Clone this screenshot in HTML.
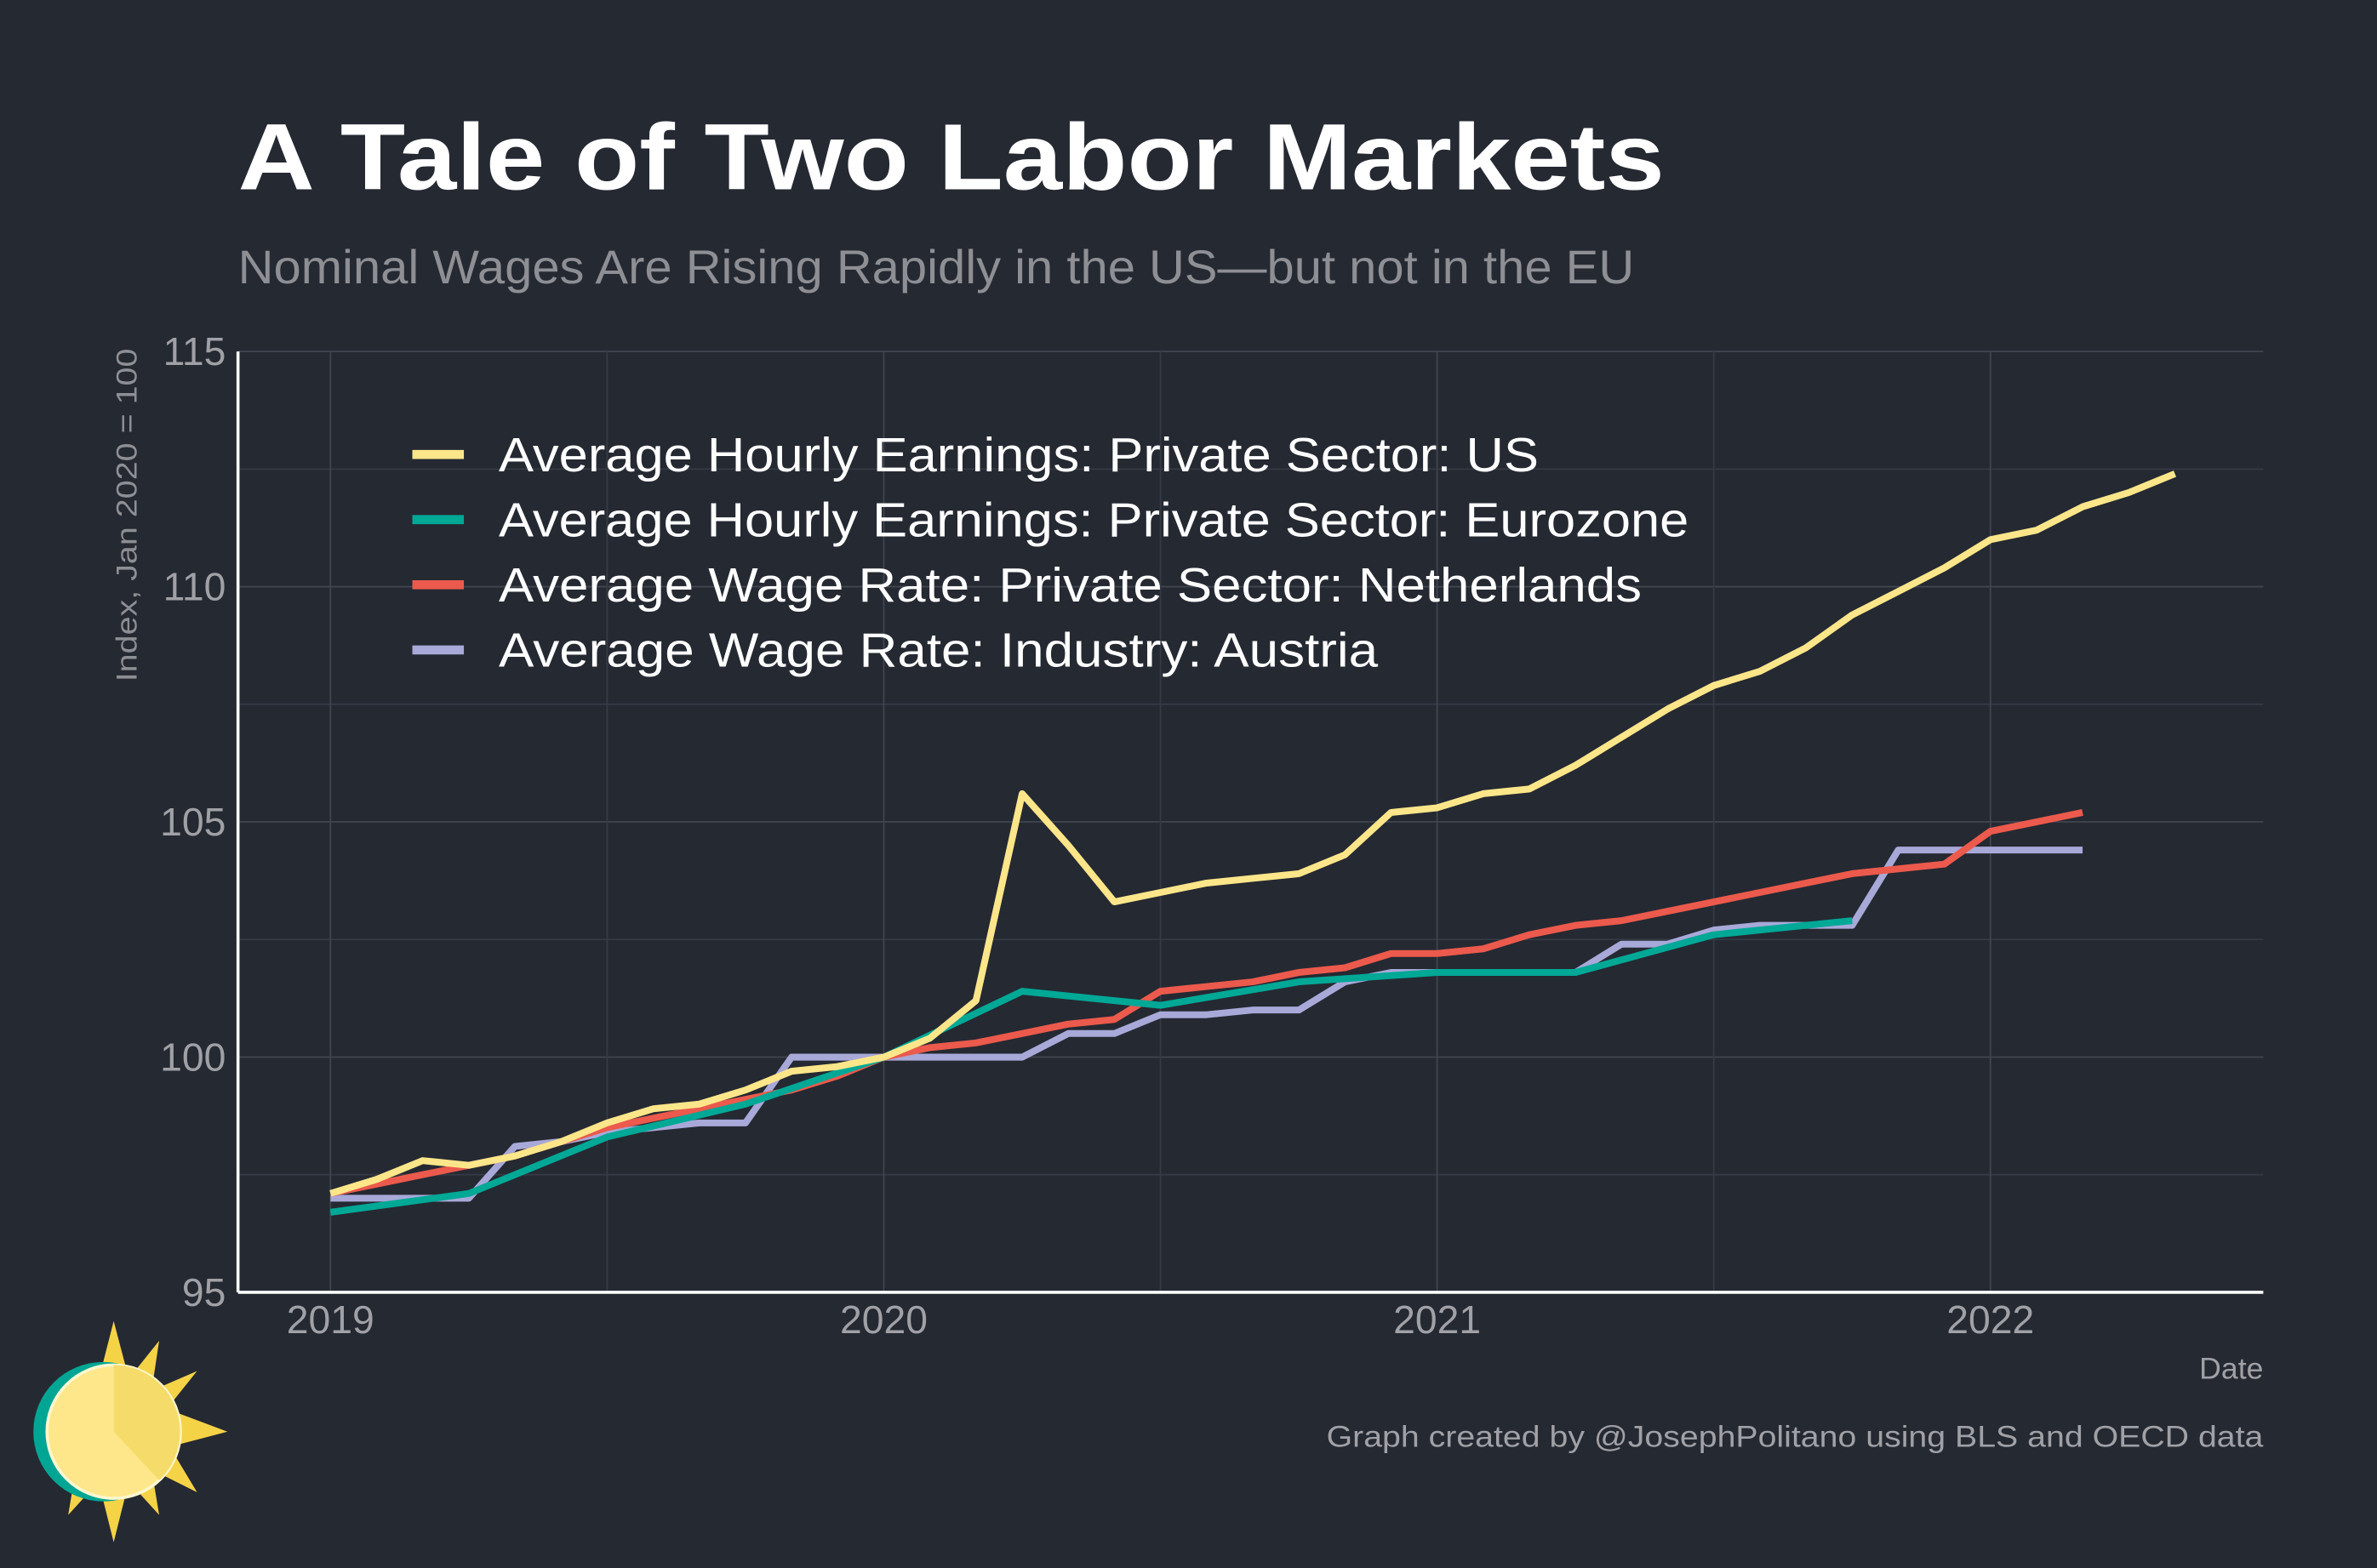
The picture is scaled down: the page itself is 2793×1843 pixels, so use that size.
<!DOCTYPE html>
<html><head><meta charset="utf-8"><style>
html,body{margin:0;padding:0;background:#252932;}
svg{display:block;}
text{font-family:"Liberation Sans",Arial,sans-serif;}
</style></head><body>
<svg id="chart" width="2793" height="1843" viewBox="0 0 1568 1035" preserveAspectRatio="none" xmlns="http://www.w3.org/2000/svg">
<rect width="1568" height="1035" fill="#252932"/>
<text x="157" y="125" font-size="62" font-weight="bold" fill="#ffffff" textLength="941" lengthAdjust="spacingAndGlyphs">A Tale of Two Labor Markets</text>
<text x="157" y="187" font-size="31" fill="#8e8f94" textLength="921" lengthAdjust="spacingAndGlyphs">Nominal Wages Are Rising Rapidly in the US—but not in the EU</text>
<g id="grid"></g>
<g id="axes"></g>
<g id="series"></g>
<g id="legend"></g>
<text x="90" y="340" font-size="19" fill="#8e8f94" text-anchor="middle" textLength="220" lengthAdjust="spacingAndGlyphs" transform="rotate(-90 90 340)">Index, Jan 2020 = 100</text>
<text x="1493" y="910" font-size="20" fill="#a0a1a6" text-anchor="end">Date</text>
<text x="875" y="955" font-size="20" fill="#a0a1a6" textLength="618" lengthAdjust="spacingAndGlyphs">Graph created by @JosephPolitano using BLS and OECD data</text>
<g>
<polygon points="75,872 85,910 105,885 100,918 130,905 110,930 150,945 112,955 130,985 100,970 105,1000 85,978 75,1018 65,978 45,1000 50,970" fill="#f5d347"/>
<circle cx="68" cy="945" r="46" fill="#00a693"/>
<circle cx="75" cy="945" r="44" fill="#fee68a" stroke="#fff7d0" stroke-width="2"/>
<path d="M75,945 L75,901 A44,44 0 0,1 105,977 Z" fill="#f5dc6a"/>
</g>
</svg>
<script>
const yTicks = [95, 100, 105, 110, 115];
const xTickYears = [2019, 2020, 2021, 2022];
const usValues = [97.1,97.4,97.8,97.7,97.9,98.2,98.6,98.9,99.0,99.3,99.7,99.8,100.0,100.4,101.2,105.6,104.5,103.3,103.5,103.7,103.8,103.9,104.3,105.2,105.3,105.6,105.7,106.2,106.8,107.4,107.9,108.2,108.7,109.4,109.9,110.4,111.0,111.2,111.7,112.0,112.4];
const euMonths = [0,3,6,9,12,15,18,21,24,27,30,33];
const euValues = [96.7,97.1,98.3,99.0,100.0,101.4,101.1,101.6,101.8,101.8,102.6,102.9];
const nlValues = [97.1,97.3,97.5,97.7,97.9,98.2,98.5,98.7,98.9,99.1,99.3,99.6,100.0,100.2,100.3,100.5,100.7,100.8,101.4,101.5,101.6,101.8,101.9,102.2,102.2,102.3,102.6,102.8,102.9,103.1,103.3,103.5,103.7,103.9,104.0,104.1,104.8,105.0,105.2];
const atValues = [97,97,97,97,98.1,98.2,98.4,98.5,98.6,98.6,100,100,100,100,100,100,100.5,100.5,100.9,100.9,101,101,101.6,101.8,101.8,101.8,101.8,101.8,102.4,102.4,102.7,102.8,102.8,102.8,104.4,104.4,104.4,104.4,104.4];
const seriesNames = ["Average Hourly Earnings: Private Sector: US","Average Hourly Earnings: Private Sector: Eurozone","Average Wage Rate: Private Sector: Netherlands","Average Wage Rate: Industry: Austria"];
const legendWidths = [686,785,754,580];
const seriesColors = ["#fde68a","#00a896","#eb5a4c","#a8a9d8"];

const NS="http://www.w3.org/2000/svg";
const X0=157,X1=1493,Y0=853,Y1=232;
function y(v){return Y0-(v-95)*(Y0-Y1)/20;}
function x(m){return 218+m*365/12;}
function mk(tag,attrs,parent){const e=document.createElementNS(NS,tag);for(const k in attrs)e.setAttribute(k,attrs[k]);parent.appendChild(e);return e;}
const grid=document.getElementById('grid'),axes=document.getElementById('axes'),ser=document.getElementById('series'),leg=document.getElementById('legend');
for(let v=95;v<=115;v+=2.5){const l=mk('line',{x1:X0,x2:X1,y1:y(v),y2:y(v),stroke:v%5===0?'#40454f':'#363a44','stroke-width':1},grid);

}
for(let m=-6;m<=42;m+=6){const xx=x(m);if(xx<X0||xx>X1)continue;const l=mk('line',{x1:xx,x2:xx,y1:Y1,y2:Y0,stroke:m%12===0?'#40454f':'#363a44','stroke-width':1},grid);

}
yTicks.forEach(v=>{const t=mk('text',{x:149,y:y(v)+9,'font-size':26,fill:'#a0a1a6','text-anchor':'end'},axes);t.textContent=v;

});
xTickYears.forEach(yr=>{const t=mk('text',{x:x((yr-2019)*12),y:880,'font-size':26,fill:'#a0a1a6','text-anchor':'middle'},axes);t.textContent=yr;

});
const ya=mk('line',{x1:X0,x2:X0,y1:Y1,y2:Y0,stroke:'#ffffff','stroke-width':2},axes);


const xa=mk('line',{x1:X0,x2:X1,y1:Y0,y2:Y0,stroke:'#ffffff','stroke-width':2},axes);


function path(ms,vs,color,name){const d=vs.map((v,i)=>(i?'L':'M')+x(ms[i]).toFixed(1)+','+y(v).toFixed(1)).join(' ');
const p=mk('path',{d:d,fill:'none',stroke:color,'stroke-width':4.5,'stroke-linejoin':'round'},ser);

}
const idx=a=>a.map((_,i)=>i);
path(idx(atValues),atValues,seriesColors[3],'line-austria');
path(idx(nlValues),nlValues,seriesColors[2],'line-netherlands');
path(euMonths,euValues,seriesColors[1],'line-eurozone');
path(idx(usValues),usValues,seriesColors[0],'line-us');
seriesNames.forEach((n,i)=>{const yy=300+i*43;
const l=mk('line',{x1:272,x2:306,y1:yy,y2:yy,stroke:seriesColors[i],'stroke-width':6},leg);


const t=mk('text',{x:329,y:yy+11,'font-size':32,fill:'#ffffff',textLength:legendWidths[i],lengthAdjust:'spacingAndGlyphs'},leg);t.textContent=n;

});
</script>
</body></html>
